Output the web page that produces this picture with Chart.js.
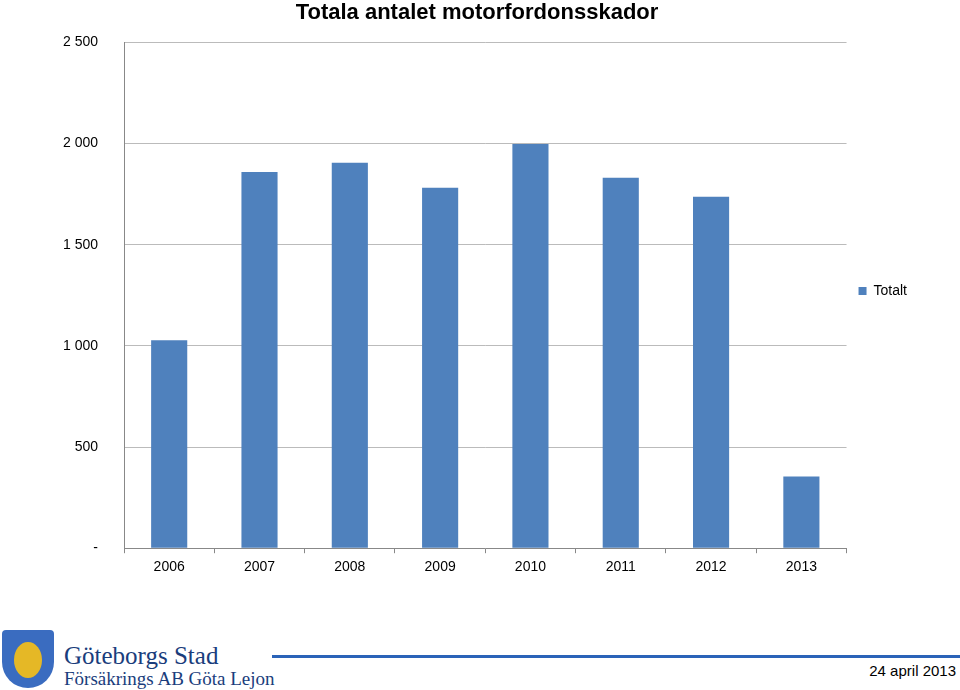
<!DOCTYPE html>
<html>
<head>
<meta charset="utf-8">
<script src="https://cdn.jsdelivr.net/npm/chart.js@4"></script>
<style>
  body { margin: 0; width: 960px; height: 690px; background: #fff; font-family: "Liberation Sans", Arial, sans-serif; position: relative; overflow: hidden; }
  #wrap { position: absolute; left: 0; top: 0; width: 960px; height: 590px; }
  .foot1 { position: absolute; left: 64px; top: 642px; font-family: "Liberation Serif", serif; font-size: 25px; color: #1a3d7c; }
  .foot2 { position: absolute; left: 64px; top: 668px; font-family: "Liberation Serif", serif; font-size: 19px; color: #1a3d7c; }
  .line { position: absolute; left: 272px; top: 655px; width: 688px; height: 3px; background: #2a63b8; }
  .date { position: absolute; right: 4px; top: 662px; font-size: 15px; color: #000; }
  .logo { position: absolute; left: 2px; top: 630px; width: 52px; height: 58px; background: #3a6cc0; border-radius: 4px 4px 26px 26px; }
  .logo2 { position: absolute; left: 14px; top: 642px; width: 28px; height: 36px; background: #e5b826; border-radius: 50%; }
</style>
</head>
<body>
<div id="wrap"><canvas id="c"></canvas></div>
<div class="logo"></div><div class="logo2"></div>
<div class="foot1">Göteborgs Stad</div>
<div class="foot2">Försäkrings AB Göta Lejon</div>
<div class="line"></div>
<div class="date">24 april 2013</div>
<script>
// Data
const years = ['2006', '2007', '2008', '2009', '2010', '2011', '2012', '2013'];
const totalt = [1028, 1860, 1905, 1781, 1998, 1831, 1737, 354];

const ctx = document.getElementById('c').getContext('2d');
new Chart(ctx, {
    type: 'bar',
    data: {
        labels: years,
        datasets: [{
            label: 'Totalt',
            data: totalt,
            backgroundColor: '#4f81bd',
            barPercentage: 0.4,
            categoryPercentage: 1.0
        }]
    },
    options: {
        responsive: true,
        maintainAspectRatio: false,
        animation: false,
        layout: { padding: { left: 37, right: 43, top: 0, bottom: 8 } },
        plugins: {
            title: {
                display: true,
                text: 'Totala antalet motorfordonsskador',
                color: '#000',
                font: { family: 'Liberation Sans', size: 22, weight: 'bold' },
                padding: { top: 0, bottom: 16 }
            },
            legend: {
                position: 'right',
                labels: {
                    boxWidth: 8, boxHeight: 8, color: '#000', padding: 12,
                    font: { family: 'Liberation Sans', size: 14 }
                }
            },
            tooltip: { enabled: false }
        },
        scales: {
            x: {
                grid: { display: true, offset: true, drawOnChartArea: false, color: '#888', tickLength: 5 },
                border: { color: '#888' },
                ticks: { color: '#000', padding: 6, font: { family: 'Liberation Sans', size: 14 } }
            },
            y: {
                min: 0, max: 2500,
                ticks: {
                    stepSize: 500, color: '#000', padding: 26,
                    font: { family: 'Liberation Sans', size: 14 },
                    callback: v => v === 0 ? '-' : String(v).replace(/\B(?=(\d{3})+(?!\d))/g, ' ')
                },
                grid: { color: '#bbb', drawTicks: false },
                border: { color: '#888' }
            }
        }
    }
});
</script>
</body>
</html>
